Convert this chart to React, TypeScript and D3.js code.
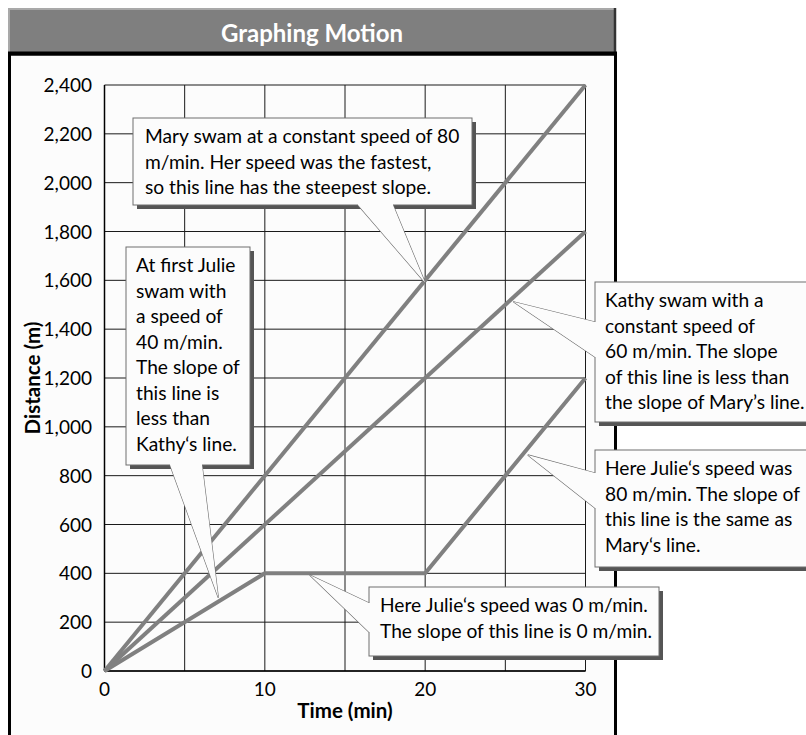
import React from "react";
import * as d3 from "d3";

// ---- data ----
const timeTicks = [0, 10, 20, 30];
const timeGrid = [0, 5, 10, 15, 20, 25, 30];
const distanceTicks = [0, 200, 400, 600, 800, 1000, 1200, 1400, 1600, 1800, 2000, 2200, 2400];

const maryTime = [0, 30];
const maryDistance = [0, 2400];
const kathyTime = [0, 30];
const kathyDistance = [0, 1800];
const julieTime = [0, 10, 20, 30];
const julieDistance = [0, 400, 400, 1200];

const title = "Graphing Motion";
const xTitle = "Time (min)";
const yTitle = "Distance (m)";

// callout texts and the data point each one points at
const calloutTexts = [
  ["Mary swam at a constant speed of 80", "m/min. Her speed was the fastest,", "so this line has the steepest slope."],
  ["At first Julie", "swam with", "a speed of", "40 m/min.", "The slope of", "this line is", "less than", "Kathy\u2018s line."],
  ["Kathy swam with a", "constant speed of", "60 m/min. The slope", "of this line is less than", "the slope of Mary\u2019s line."],
  ["Here Julie\u2018s speed was", "80 m/min. The slope of", "this line is the same as", "Mary\u2018s line."],
  ["Here Julie\u2018s speed was 0 m/min.", "The slope of this line is 0 m/min."],
];
const calloutTipTime = [20, 7.1, 25.5, 26.4, 12.8];
const calloutTipDistance = [1590, 300, 1512, 885, 393];

// ---- layout (pixels) ----
const W = 806;
const H = 735;
const boxes = [
  { x0: 133, y0: 118, x1: 472, y1: 205, tx: 145, base: [[358, 205], [393, 205]] },
  { x0: 126, y0: 247, x1: 250, y1: 465, tx: 136, base: [[170, 465], [202, 465]] },
  { x0: 595, y0: 282, x1: 812, y1: 422, tx: 605, base: [[595, 322], [595, 357]] },
  { x0: 595, y0: 450, x1: 812, y1: 567, tx: 605, base: [[595, 473], [595, 508]] },
  { x0: 369, y0: 587, x1: 659, y1: 656, tx: 380, base: [[369, 603], [369, 632]] },
];
const LH = 25.5;
const FONT = "Lato, 'Open Sans', sans-serif";
const BOX_FONT = 19.2;

export default function App() {
  const x = d3.scaleLinear().domain([0, 30]).range([104.5, 585.5]);
  const y = d3.scaleLinear().domain([0, 2400]).range([671, 85]);
  const line = d3
    .line<[number, number]>()
    .x((d) => x(d[0]))
    .y((d) => y(d[1]));

  const series = [
    maryTime.map((t, i) => [t, maryDistance[i]] as [number, number]),
    kathyTime.map((t, i) => [t, kathyDistance[i]] as [number, number]),
    julieTime.map((t, i) => [t, julieDistance[i]] as [number, number]),
  ];

  return (
    <svg
      width={W}
      height={H}
      style={{ position: "absolute", left: 0, top: 0, background: "#fff" }}
      fontFamily={FONT}
    >
      {/* frame */}
      <rect x={9.5} y={54} width={606} height={700} fill="#fcfcfc" stroke="#000" strokeWidth={3} />
      {/* title bar */}
      <rect x={8} y={8} width={608} height={44} fill="#7f7f7f" />
      <line x1={8} y1={9} x2={614} y2={9} stroke="#a9a9a9" strokeWidth={2} />
      <line x1={9} y1={8} x2={9} y2={52} stroke="#a9a9a9" strokeWidth={2} />
      <line x1={615} y1={8} x2={615} y2={54} stroke="#333" strokeWidth={2.5} />
      <line x1={8} y1={53.5} x2={617} y2={53.5} stroke="#000" strokeWidth={4} />
      <text x={312} y={41.5} textAnchor="middle" fill="#fff" fontWeight={700} fontSize={24}>
        {title}
      </text>

      {/* grid */}
      {timeGrid.map((t) => (
        <line key={"gx" + t} x1={x(t)} x2={x(t)} y1={y(0)} y2={y(2400)} stroke="#1a1a1a" strokeWidth={1} />
      ))}
      {distanceTicks.map((d) => (
        <line key={"gy" + d} x1={x(0)} x2={x(30)} y1={y(d)} y2={y(d)} stroke="#1a1a1a" strokeWidth={1} />
      ))}
      <line x1={x(0)} x2={x(30)} y1={y(0)} y2={y(0)} stroke="#000" strokeWidth={1.5} />
      <line x1={x(0)} x2={x(0)} y1={y(0)} y2={y(2400)} stroke="#000" strokeWidth={1.5} />

      {/* tick labels */}
      {distanceTicks.map((d) => (
        <text key={"ty" + d} x={92} y={y(d) + 7} textAnchor="end" fontSize={19} fill="#000">
          {d3.format(",")(d)}
        </text>
      ))}
      {timeTicks.map((t) => (
        <text key={"tx" + t} x={x(t)} y={695.5} textAnchor="middle" fontSize={19} fill="#000">
          {t}
        </text>
      ))}
      <text x={345} y={718} textAnchor="middle" fontSize={20.5} fontWeight={700} fill="#000">
        {xTitle}
      </text>
      <text
        transform={`translate(40,${(y(0) + y(2400)) / 2}) rotate(-90)`}
        textAnchor="middle"
        fontSize={20.5}
        fontWeight={700}
        fill="#000"
      >
        {yTitle}
      </text>

      {/* lines */}
      {series.map((s, i) => (
        <path key={"s" + i} d={line(s) || ""} fill="none" stroke="#808080" strokeWidth={4} strokeLinejoin="round" />
      ))}

      {/* callouts */}
      {boxes.map((b, i) => {
        const tip: [number, number] = [x(calloutTipTime[i]), y(calloutTipDistance[i])];
        const [p1, p2] = b.base;
        const vertical = p1[0] === p2[0];
        // inset points so the fill hides the box border under the pointer
        const in1 = vertical ? [p1[0] + 2, p1[1]] : [p1[0], p1[1] - 2];
        const in2 = vertical ? [p2[0] + 2, p2[1]] : [p2[0], p2[1] - 2];
        const fillPath = `M${in1[0]},${in1[1]}L${p1[0]},${p1[1]}L${tip[0]},${tip[1]}L${p2[0]},${p2[1]}L${in2[0]},${in2[1]}Z`;
        const strokePath = `M${p1[0]},${p1[1]}L${tip[0]},${tip[1]}L${p2[0]},${p2[1]}`;
        return (
          <g key={"c" + i}>
            <rect x={b.x0 + 4} y={b.y0 + 4} width={b.x1 - b.x0} height={b.y1 - b.y0} fill="#555" />
            <rect x={b.x0} y={b.y0} width={b.x1 - b.x0} height={b.y1 - b.y0} fill="#fcfcfc" stroke="#6e6e6e" strokeWidth={1} />
            <path d={strokePath} fill="none" stroke="#6e6e6e" strokeWidth={1.2} />
            <path d={fillPath} fill="#fcfcfc" stroke="none" />
            <text x={b.tx} y={b.y0 + 25} fontSize={BOX_FONT} fill="#000">
              {calloutTexts[i].map((t, j) => (
                <tspan key={j} x={b.tx} dy={j === 0 ? 0 : LH}>
                  {t}
                </tspan>
              ))}
            </text>
          </g>
        );
      })}
    </svg>
  );
}
